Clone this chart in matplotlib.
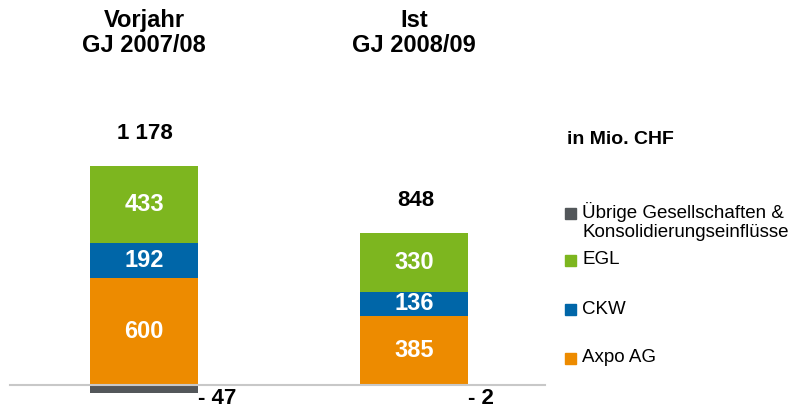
import matplotlib.pyplot as plt
from matplotlib.patches import Rectangle

plt.rcParams["font.family"] = ["Liberation Sans", "DejaVu Sans"]

# data (in Mio. CHF)
periods = ["Vorjahr\nGJ 2007/08", "Ist\nGJ 2008/09"]
axpo = [600, 385]
ckw = [192, 136]
egl = [433, 330]
other = [-47, -2]
totals = ["1 178", "848"]
series_names = ["Übrige Gesellschaften &\nKonsolidierungseinflüsse", "EGL", "CKW", "Axpo AG"]

C_AXPO, C_CKW, C_EGL, C_OTHER = "#ED8B00", "#0066A8", "#7DB61F", "#53575A"

W, H = 793, 409
fig = plt.figure(figsize=(W / 100, H / 100), dpi=100)
ax = fig.add_axes([0, 0, 1, 1])
ax.axis("off")

px_per_unit = 0.179
base_px = 24  # baseline height from bottom
ax.set_ylim(-base_px / px_per_unit, (H - base_px) / px_per_unit)
ax.set_xlim(-144 / 270, (W - 144) / 270)

x = range(len(periods))
width = 0.4
ax.bar(x, axpo, width, color=C_AXPO, zorder=2)
ax.bar(x, ckw, width, bottom=axpo, color=C_CKW, zorder=2)
bottom_egl = [a + c for a, c in zip(axpo, ckw)]
ax.bar(x, egl, width, bottom=bottom_egl, color=C_EGL, zorder=2)
ax.bar(x, other, width, color=C_OTHER, zorder=2)

ax.axhline(0, xmin=10 / W, xmax=545 / W, color="#c8c8c8", lw=1.5, zorder=3)

label_kw = dict(ha="center", va="center", color="white", fontsize=17, fontweight="bold")
for i in x:
    ax.text(i, axpo[i] / 2, f"{axpo[i]}", **label_kw)
    ax.text(i, axpo[i] + ckw[i] / 2, f"{ckw[i]}", **label_kw)
    ax.text(i, bottom_egl[i] + egl[i] / 2, f"{egl[i]}", **label_kw)
    top = bottom_egl[i] + egl[i]
    ax.text(i + 0.005, top + 32.5 / px_per_unit, totals[i], ha="center", va="center",
            fontsize=16, fontweight="bold", color="black")
    ax.text(i + width / 2, -13 / px_per_unit, f"- {abs(other[i])}", ha="left",
            va="center", fontsize=16, fontweight="bold", color="black")
    ax.text(i, (H - 33) / px_per_unit - base_px / px_per_unit, periods[i], ha="center",
            va="center", fontsize=17, fontweight="bold", linespacing=1.15)

# legend drawn by hand to keep the uneven spacing
fig.text(567 / W, 1 - 140 / H, "in Mio. CHF", ha="left", va="center",
         fontsize=14, fontweight="bold")
legend_colors = [C_OTHER, C_EGL, C_CKW, C_AXPO]
legend_y = [213, 260, 309, 358]
for name, col, yy in zip(series_names, legend_colors, legend_y):
    fig.add_artist(Rectangle((565 / W, 1 - (yy + 5.5) / H), 11 / W, 11 / H,
                             transform=fig.transFigure, color=col))
    if "\n" in name:
        fig.text(582 / W, 1 - (yy - 11) / H, name, ha="left", va="top",
                 fontsize=13.5, linespacing=1.15)
    else:
        fig.text(582 / W, 1 - yy / H, name, ha="left", va="center", fontsize=13.5)

fig.savefig("out.png", dpi=100)
